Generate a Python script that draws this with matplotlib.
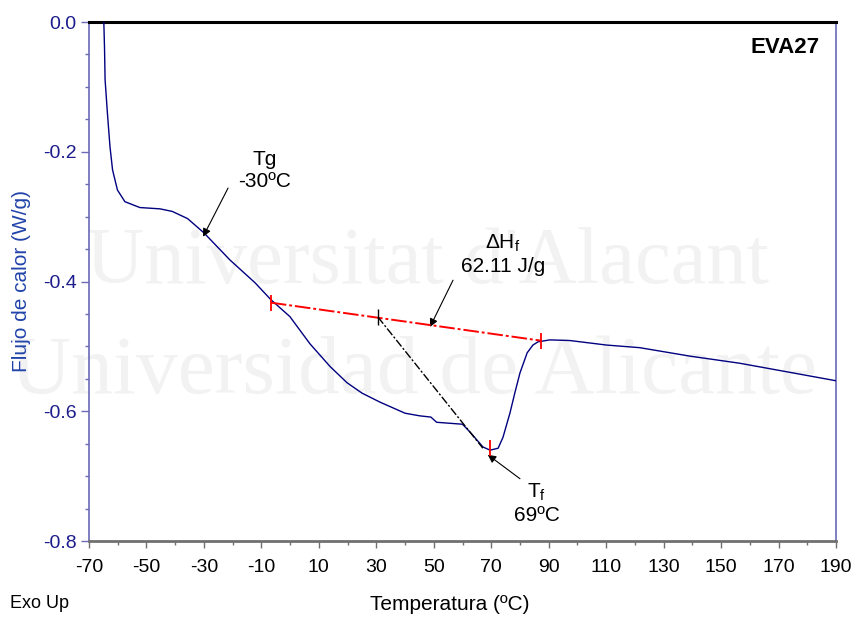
import matplotlib
matplotlib.use('Agg')
import matplotlib.pyplot as plt
import numpy as np

# DSC curve EVA27
temp = [-64.9, -64.6, -64.4, -63.6, -62.7, -61.8, -60.1, -57.5, -52.3, -45.3,
        -41.0, -35.7, -30.0, -20.9, -12.2, -6.7, -0.1, 6.9, 13.9, 19.8,
        25.0, 31.3, 40.0, 45.0, 49.0, 51.0, 60.0, 62.6, 67.1, 69.6,
        72.4, 74.1, 76.5, 78.2, 80.0, 82.5, 84.5, 86.3, 90.4, 97.4,
        110.2, 121.7, 139.1, 156.5, 173.9, 190.0]
flujo = [0.01, -0.04, -0.089, -0.14, -0.192, -0.228, -0.259, -0.277, -0.286, -0.288,
         -0.292, -0.303, -0.325, -0.367, -0.402, -0.428, -0.454, -0.496, -0.531, -0.556,
         -0.572, -0.586, -0.603, -0.607, -0.609, -0.617, -0.620, -0.632, -0.655, -0.660,
         -0.657, -0.640, -0.603, -0.572, -0.541, -0.510, -0.498, -0.493, -0.490, -0.491,
         -0.498, -0.502, -0.515, -0.526, -0.540, -0.553]

# integration baseline and onset tangent
base_t = [-6.7, 87.3]
base_y = [-0.4326, -0.4912]
tang_t = [30.6, 67.1]
tang_y = [-0.455, -0.657]
pico_t, pico_y = 69.5, -0.657

xticks = [-70, -50, -30, -10, 10, 30, 50, 70, 90, 110, 130, 150, 170, 190]
xminor = [-60, -40, -20, 0, 20, 40, 60, 80, 100, 120, 140, 160, 180]
yticks = [0.0, -0.2, -0.4, -0.6, -0.8]
ylabels = ['0.0', '-0.2', '-0.4', '-0.6', '-0.8']

plt.rcParams['font.family'] = ['Liberation Sans', 'DejaVu Sans']
plt.rcParams['axes.unicode_minus'] = False

fig = plt.figure(figsize=(8.59, 6.17), dpi=100)

# marca de agua (detras de todo)
fig.text(427/859, 1-283/617, "Universitat d'Alacant", fontsize=58, family='Liberation Serif',
         color='#f2f2f2', ha='center', va='baseline', zorder=-5)
fig.text(414/859, 1-393/617, "Universidad de Alicante", fontsize=60, family='Liberation Serif',
         color='#f2f2f2', ha='center', va='baseline', zorder=-5)

ax = fig.add_axes([89/859, 1-541/617, (836-89)/859, (541-22)/617])
ax.patch.set_alpha(0)

ax.plot(temp, flujo, color='#000080', lw=1.0, zorder=3)
ax.plot(base_t, base_y, color='red', lw=1.4, ls=(0, (8, 1.5, 1.5, 1.5)), zorder=4)
ax.plot(base_t, base_y, '|', color='red', ms=12, mew=1.3, zorder=5)
ax.plot([pico_t], [pico_y], '|', color='red', ms=12, mew=1.3, zorder=5)
ax.plot(tang_t, tang_y, color='black', lw=1.0, ls=(0, (6, 1.5, 1.5, 1.5)), zorder=4)
ax.plot(tang_t[:1], tang_y[:1], '|', color='black', ms=12, mew=1.0, zorder=5)

flecha = dict(arrowstyle='-|>', color='black', lw=0.8, mutation_scale=12, shrinkA=0, shrinkB=0)
ax.annotate('', xy=(-30.3, -0.331), xytext=(-21.6, -0.256), arrowprops=flecha)
ax.annotate('', xy=(48.7, -0.470), xytext=(56.7, -0.398), arrowprops=flecha)
ax.annotate('', xy=(68.8, -0.667), xytext=(80.0, -0.704), arrowprops=flecha)

ax.text(-8.8, -0.229, 'Tg\n-30ºC', fontsize=15, ha='center', va='center', multialignment='center')
ax.text(74.1, -0.358, 'ΔH$_\\mathregular{f}$\n62.11 J/g', fontsize=15, ha='center', va='center',
        multialignment='center')
ax.text(85.9, -0.741, 'T$_\\mathregular{f}$\n69ºC', fontsize=15, ha='center', va='center',
        multialignment='center')
ax.text(0.978, 0.95, 'EVA27', transform=ax.transAxes, fontsize=16, fontweight='bold',
        ha='right', va='center')

ax.set_xlim(-70, 190)
ax.set_ylim(-0.8, 0.0)
ax.set_xticks(xticks)
ax.set_xticks(xminor, minor=True)
ax.set_yticks(yticks)
ax.set_yticklabels(ylabels)
ax.set_yticks(np.arange(-0.8, 0.001, 0.05), minor=True)

ax.tick_params(axis='x', which='major', length=5, width=1, color='#707070', labelsize=14, pad=8)
ax.tick_params(axis='x', which='minor', length=3, width=1, color='#707070')
ax.tick_params(axis='y', which='major', length=6, width=1, color='#6a6ab8', labelsize=14,
               labelcolor='#1c1c8c', pad=3)
ax.tick_params(axis='y', which='minor', length=3, width=1, color='#6a6ab8')

ax.spines['top'].set_color('black')
ax.spines['top'].set_linewidth(2.2)
ax.spines['bottom'].set_color('#707070')
ax.spines['bottom'].set_linewidth(2.0)
for s in ['left', 'right']:
    ax.spines[s].set_color('#6a6ab8')
    ax.spines[s].set_linewidth(1.2)

ax.set_ylabel('Flujo de calor (W/g)', color='#2244aa', fontsize=15)
ax.yaxis.set_label_coords(-0.077, 0.5)

fig.text(450/859, 1-604/617, 'Temperatura (ºC)', fontsize=15, ha='center', va='center')
fig.text(10/859, 1-604/617, 'Exo Up', fontsize=13, ha='left', va='center')

fig.savefig('out.png', dpi=100)
